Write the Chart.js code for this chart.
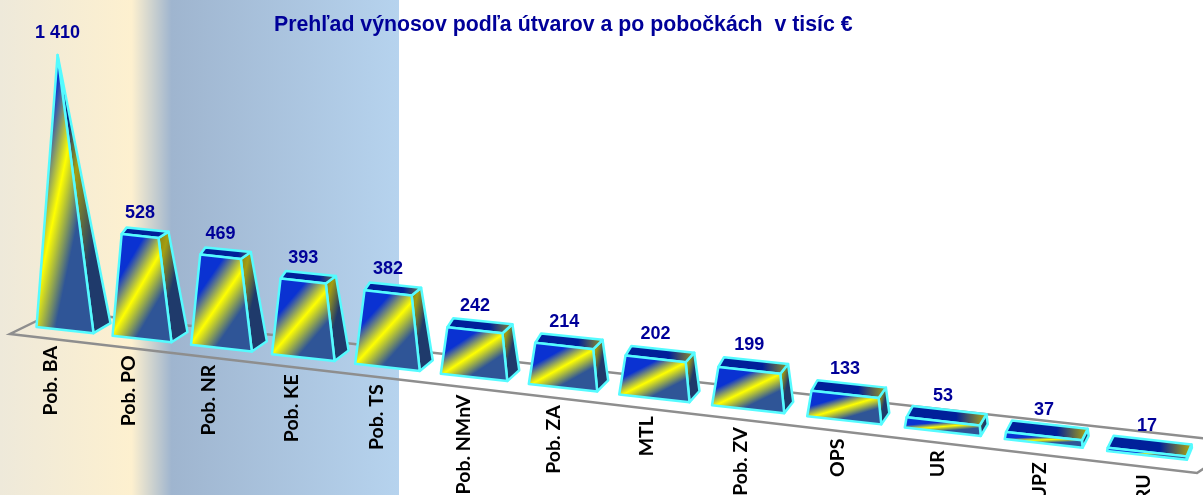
<!DOCTYPE html>
<html>
<head>
<meta charset="utf-8">
<title>Prehľad výnosov</title>
<script src="https://cdn.jsdelivr.net/npm/chart.js@4"></script>
<style>
    html, body { margin: 0; padding: 0; background: #fff; overflow: hidden; }
    #wrap { width: 1203px; height: 495px; position: relative; }
</style>
</head>
<body>
<div id="wrap"><canvas id="myChart"></canvas></div>
<script>
const categories = ["Pob. BA", "Pob. PO", "Pob. NR", "Pob. KE", "Pob. TS", "Pob. NMnV", "Pob. ZA", "MTL", "Pob. ZV", "OPS", "UR", "UPZ", "RU"];
const values = [1410, 528, 469, 393, 382, 242, 214, 202, 199, 133, 53, 37, 17];
const valueLabels = ["1 410", "528", "469", "393", "382", "242", "214", "202", "199", "133", "53", "37", "17"];
const chartTitle = "Prehľad výnosov podľa útvarov a po pobočkách  v tisíc €";
const yMax = 1410;

const BLUE = "#0a32d2", TEXT = "#000099", CYAN = "#55fbff";

function lerp(a, b, k) {
    return { x: a.x + (b.x - a.x) * k, y: a.y + (b.y - a.y) * k };
}

function path(ctx, pts) {
    ctx.beginPath();
    pts.forEach((p, i) => i ? ctx.lineTo(p.x, p.y) : ctx.moveTo(p.x, p.y));
    ctx.closePath();
}

// gradient whose middle runs along the box diagonal, lower left to upper right
function diagGradient(ctx, pts, stops) {
    let xs = pts.map(p => p.x), ys = pts.map(p => p.y);
    let x0 = Math.min(...xs), x1 = Math.max(...xs), y0 = Math.min(...ys), y1 = Math.max(...ys);
    let w = Math.max(x1 - x0, 1), h = Math.max(y1 - y0, 1), len = Math.hypot(w, h);
    let half = w * h / len, nx = h / len, ny = w / len;
    let cx = (x0 + x1) / 2, cy = (y0 + y1) / 2;
    let g = ctx.createLinearGradient(cx - nx * half, cy - ny * half, cx + nx * half, cy + ny * half);
    stops.forEach(s => g.addColorStop(s[0], s[1]));
    return g;
}

// front face: the stripe climbs at height/width of the block, not of the sheared box
function frontGradient(ctx, front, w, h, stops) {
    let fl = front[0], tr = front[2];
    let xs = front.map(p => p.x), ys = front.map(p => p.y);
    let mid = lerp(fl, tr, 0.5);
    let box = { x: (Math.min(...xs) + Math.max(...xs)) / 2, y: (Math.min(...ys) + Math.max(...ys)) / 2 };
    let c = lerp(mid, box, 0.65);
    let rise = Math.max(h / w - 0.05, 0.03);
    let len = Math.hypot(1, rise);
    let nx = rise / len, ny = 1 / len;
    let half = Math.max(w * h / Math.hypot(w, h), 3);
    let g = ctx.createLinearGradient(c.x - nx * half, c.y - ny * half, c.x + nx * half, c.y + ny * half);
    stops.forEach(s => g.addColorStop(s[0], s[1]));
    return g;
}

const blocksPlugin = {
    id: "blocks",
    beforeDraw(chart) {
        let ctx = chart.ctx;
        // panel behind the first five blocks
        let g = ctx.createLinearGradient(0, 0, 399, 0);
        g.addColorStop(0, "#eee9da");
        g.addColorStop(0.33, "#fdf0cf");
        g.addColorStop(0.43, "#9fb5cf");
        g.addColorStop(1, "#b6d3ee");
        ctx.fillStyle = g;
        ctx.fillRect(0, 0, 399, chart.height);
    },
    afterDatasetsDraw(chart) {
        let ctx = chart.ctx;
        let meta = chart.getDatasetMeta(0);
        let area = chart.chartArea;
        let first = meta.data[0].x, last = meta.data[meta.data.length - 1].x;

        ctx.save();
        // floor
        ctx.strokeStyle = "#8e8e8e";
        ctx.lineWidth = 2.5;
        ctx.lineJoin = "miter";
        ctx.beginPath();
        ctx.moveTo(57, 311);
        ctx.lineTo(10, 334);
        ctx.lineTo(1197, 473);
        ctx.lineTo(1206, 467);
        ctx.stroke();
        ctx.beginPath();
        ctx.moveTo(57, 311);
        ctx.lineTo(1206, 438.5);
        ctx.stroke();

        let tops = [];
        meta.data.forEach((bar, i) => {
            // scale position to floor position, blocks get wider and further apart to the right
            let s = (bar.x - first) / (last - first);
            let cx = 65 + 910 * s + 172 * s * s;
            let cy = area.bottom + 0.1158 * (cx - 64.5);
            let w = 57 * (1 + 0.4 * s);
            let dy = -(10 + 2 * s);
            let height = bar.base - bar.y;
            let k = height / area.height;
            let f = Math.min(0.37 + 0.5 * s, 0.62);

            let fl = { x: cx - w / 2, y: cy - w * 0.055 };
            let fr = { x: cx + w / 2, y: cy + w * 0.055 };
            let br = { x: fr.x + 17 - 12 * s, y: fr.y + dy };
            let bl = { x: fl.x + 8 - 2 * s, y: fl.y + dy };
            let apex = { x: fl.x + f * w, y: cy - area.height };

            let tl = lerp(fl, apex, k), tr = lerp(fr, apex, k);
            let tbr = lerp(br, apex, k), tbl = lerp(bl, apex, k);

            ctx.lineJoin = "round";
            ctx.lineWidth = 2.5;
            ctx.strokeStyle = CYAN;

            // side, the olive band sits lower on the taller blocks
            let side = [fr, br, tbr, tr];
            let peak = 0.18 + 0.2 * Math.max((k - 0.37) / 0.63, 0);
            let start = k > 0.6 ? "#0a2a80" : "#8a8514";
            path(ctx, side);
            ctx.fillStyle = diagGradient(ctx, side, [[0, start], [Math.max(peak - 0.16, 0.01), start], [peak, "#a49e10"], [peak + 0.3, "#1f3a6b"], [1, "#1f3a6b"]]);
            ctx.fill();
            ctx.stroke();

            // top
            if (k < 0.99) {
                let top = [tl, tr, tbr, tbl];
                let tg = ctx.createLinearGradient(fl.x, 0, br.x, 0);
                tg.addColorStop(0, "#00209a");
                tg.addColorStop(0.62, "#00209a");
                tg.addColorStop(1, "#b8ac08");
                path(ctx, top);
                ctx.fillStyle = tg;
                ctx.fill();
                ctx.stroke();
            }

            // front
            let front = [fl, fr, tr, tl];
            path(ctx, front);
            ctx.fillStyle = frontGradient(ctx, front, w, height, [[0, BLUE], [0.28, BLUE], [0.5, "#ffff00"], [0.72, "#2f5597"], [1, "#2f5597"]]);
            ctx.fill();
            ctx.stroke();

            tops.push({ x: (tl.x + tr.x) / 2, y: Math.min(tbl.y, tbr.y) - (10 + 12 * k), s: s, cx: cx, cy: cy });
        });

        // value labels
        ctx.fillStyle = TEXT;
        ctx.font = "bold 18px 'Liberation Sans', Arial, sans-serif";
        ctx.textAlign = "center";
        ctx.textBaseline = "middle";
        tops.forEach((t, i) => ctx.fillText(valueLabels[i], t.x, t.y));

        // category labels, running upwards and following the floor
        ctx.fillStyle = "#000";
        ctx.font = "bold 19.5px Lato, sans-serif";
        ctx.textAlign = "right";
        ctx.textBaseline = "middle";
        tops.forEach((t, i) => {
            ctx.save();
            ctx.translate(t.cx - 14.5 + 11 * t.s, t.cy + 16 + 3 * t.s);
            ctx.rotate(-Math.PI / 2);
            ctx.fillText(categories[i], 0, 0);
            ctx.restore();
        });

        // title
        ctx.fillStyle = TEXT;
        ctx.font = "bold 21.3px 'Liberation Sans', Arial, sans-serif";
        ctx.textAlign = "left";
        ctx.fillText(chartTitle, 274, 25);
        ctx.restore();
    }
};

let ctx = document.getElementById("myChart").getContext("2d");

new Chart(ctx, {
    type: "bar",
    data: {
        labels: categories,
        datasets: [{
            label: "Výnosy",
            data: values,
            backgroundColor: "rgba(0, 0, 0, 0)",
            borderWidth: 0
        }]
    },
    options: {
        responsive: true,
        maintainAspectRatio: false,
        animation: false,
        layout: { padding: { top: 55, bottom: 165, left: 0, right: 0 } },
        plugins: {
            legend: { display: false },
            title: { display: false },
            tooltip: { enabled: false }
        },
        scales: {
            x: { display: false },
            y: { display: false, min: 0, max: yMax }
        }
    },
    plugins: [blocksPlugin]
});
</script>
</body>
</html>
